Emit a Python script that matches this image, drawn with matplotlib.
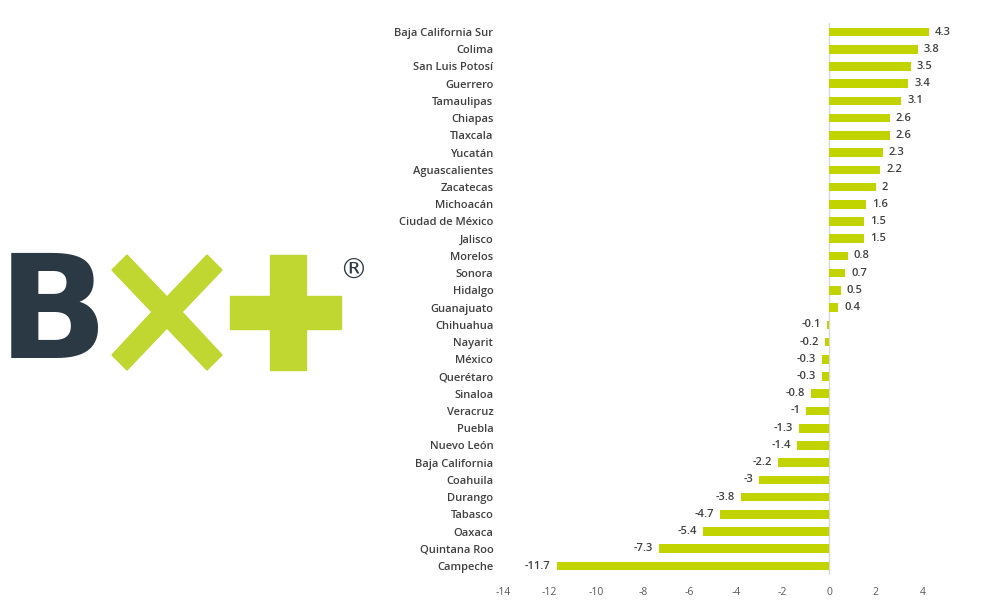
import matplotlib
matplotlib.use("Agg")
import matplotlib.pyplot as plt
from matplotlib.patches import Polygon, Rectangle

states = [
    "Baja California Sur", "Colima", "San Luis Potosí", "Guerrero", "Tamaulipas",
    "Chiapas", "Tlaxcala", "Yucatán", "Aguascalientes", "Zacatecas", "Michoacán",
    "Ciudad de México", "Jalisco", "Morelos", "Sonora", "Hidalgo", "Guanajuato",
    "Chihuahua", "Nayarit", "México", "Querétaro", "Sinaloa", "Veracruz", "Puebla",
    "Nuevo León", "Baja California", "Coahuila", "Durango", "Tabasco", "Oaxaca",
    "Quintana Roo", "Campeche",
]
values = [
    4.3, 3.8, 3.5, 3.4, 3.1, 2.6, 2.6, 2.3, 2.2, 2, 1.6, 1.5, 1.5, 0.8, 0.7, 0.5, 0.4,
    -0.1, -0.2, -0.3, -0.3, -0.8, -1, -1.3, -1.4, -2.2, -3, -3.8, -4.7, -5.4, -7.3, -11.7,
]
xticks = [-14, -12, -10, -8, -6, -4, -2, 0, 2, 4]

BAR_GREEN = "#c2d400"
LOGO_GREEN = "#bfd730"
LOGO_DARK = "#2b3945"
TEXT = "#404040"

plt.rcParams["font.family"] = ["Open Sans", "DejaVu Sans"]

fig = plt.figure(figsize=(10, 6), dpi=100)
ax = fig.add_axes([0.503, 0.0423, 0.431, 0.9187])

ypos = list(range(len(states)))[::-1]
ax.barh(ypos, values, height=0.5, color=BAR_GREEN)
ax.axvline(0, color="#d9d9d9", lw=1, zorder=0)

for y, v in zip(ypos, values):
    label = f"{v:g}"
    if v >= 0:
        ax.text(v + 0.25, y, label, ha="left", va="center", fontsize=8,
                color=TEXT, fontweight="semibold")
    else:
        ax.text(v - 0.25, y, label, ha="right", va="center", fontsize=8,
                color=TEXT, fontweight="semibold")

ax.set_xlim(-14, 4.5)
ax.set_ylim(-0.5, len(states) - 0.5)
ax.set_xticks(xticks)
ax.set_xticklabels([str(t) for t in xticks], fontsize=7.5, color="#595959")
ax.set_yticks(ypos)
ax.set_yticklabels(states, fontsize=8, color=TEXT, fontweight="semibold")
ax.tick_params(axis="both", length=0)
ax.tick_params(axis="x", pad=9)
ax.tick_params(axis="y", pad=7)
for s in ax.spines.values():
    s.set_visible(False)

# logo BX+ on the left, drawn in figure pixel coords
logo = fig.add_axes([0, 0, 1, 1], facecolor="none")
logo.set_xlim(0, 1000)
logo.set_ylim(600, 0)
logo.axis("off")
logo.text(-2, 318, "B", fontsize=104, fontweight="heavy", family="DejaVu Sans",
          color=LOGO_DARK, ha="left", va="center")
logo.add_patch(Polygon([(112, 270), (127, 255), (167, 297), (207, 255), (222, 270),
                        (182, 312), (222, 355), (207, 370), (167, 328), (127, 370),
                        (112, 355), (152, 312)], closed=True, color=LOGO_GREEN))
logo.add_patch(Rectangle((270, 255), 36, 115, color=LOGO_GREEN))
logo.add_patch(Rectangle((230, 296), 111, 33, color=LOGO_GREEN))
logo.text(353, 271, "®", fontsize=20, color=LOGO_DARK, ha="center", va="center",
          family="DejaVu Sans")

fig.savefig("out.png", dpi=100)
